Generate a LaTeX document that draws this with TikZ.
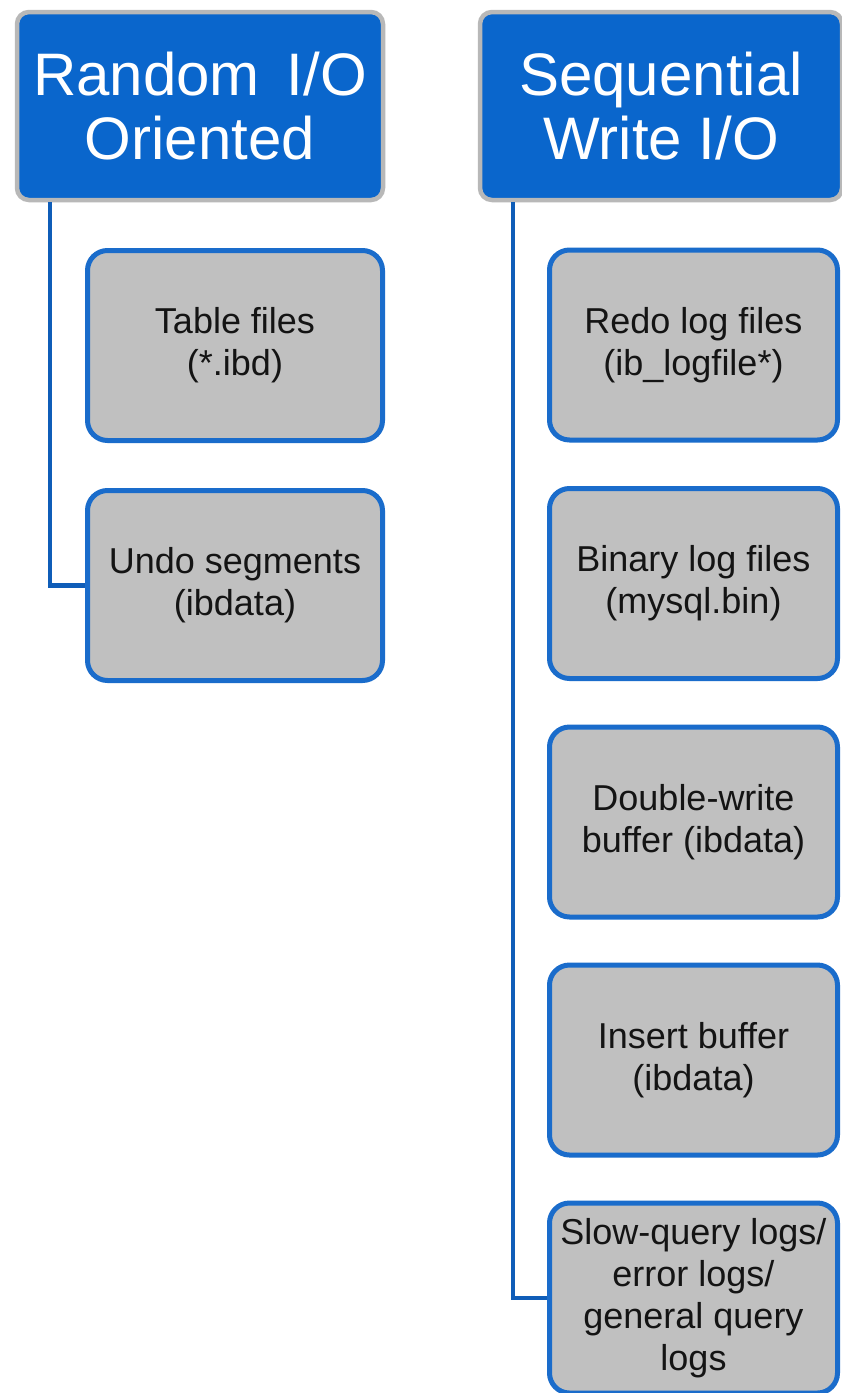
\documentclass[tikz,border=0pt]{standalone}
\usepackage{fontspec}
\setmainfont{Liberation Sans}
\definecolor{hdrblue}{HTML}{0A66CC}
\definecolor{hdredge}{HTML}{B8B8B8}
\definecolor{boxedge}{HTML}{1A6CCB}
\definecolor{boxfill}{HTML}{C0C0C0}
\definecolor{linkblue}{HTML}{0F5DB8}
\begin{document}
\begin{tikzpicture}[x=1pt,y=-1pt,
  hdrbox/.style={draw=hdredge, line width=4.5pt, fill=hdrblue, rounded corners=12pt,
    minimum width=366pt, minimum height=188pt, inner sep=0pt, align=center,
    text=white, font=\fontsize{60}{64}\selectfont},
  itembox/.style={draw=boxedge, line width=5pt, fill=boxfill, rounded corners=20pt,
    minimum width=292pt, minimum height=190pt, inner sep=0pt, align=center,
    text=black!92, font=\fontsize{36}{42}\selectfont},
  link/.style={draw=linkblue, line width=4.5pt}]
\useasboundingbox (0,0) rectangle (842,1393);
\fill[white] (0,0) rectangle (842,1393);
% headers
\node[hdrbox] (hL) at (200,106) {Random\hspace{0.45em}I/O\\Oriented};
\node[hdrbox, minimum width=362pt] (hR) at (661,106) {Sequential\\Write I/O};
% left items
\node[itembox, minimum width=295pt] (tbl) at (235,345.5) {Table files\\(*.ibd)};
\node[itembox, minimum width=295pt] (undo) at (235,585.5) {Undo segments\\(ibdata)};
% right items
\node[itembox, minimum width=288pt] (redo) at (693.5,345) {Redo log files\\(ib\_logfile*)};
\node[itembox, minimum width=288pt] (bin) at (693.5,583.5) {Binary log files\\(mysql.bin)};
\node[itembox, minimum width=288pt] (dbl) at (693.5,822) {Double-write\\buffer (ibdata)};
\node[itembox, minimum width=288pt] (ins) at (693.5,1060) {Insert buffer\\(ibdata)};
\node[itembox, minimum width=288pt] (slow) at (693.5,1298) {Slow-query logs/\\error logs/\\general query\\logs};
% connectors
\coordinate (lx) at (50,0);
\coordinate (rx) at (513,0);
\draw[link] (hL.south -| lx) |- (undo.west);
\draw[link] (hR.south -| rx) |- (slow.west);
\end{tikzpicture}
\end{document}
